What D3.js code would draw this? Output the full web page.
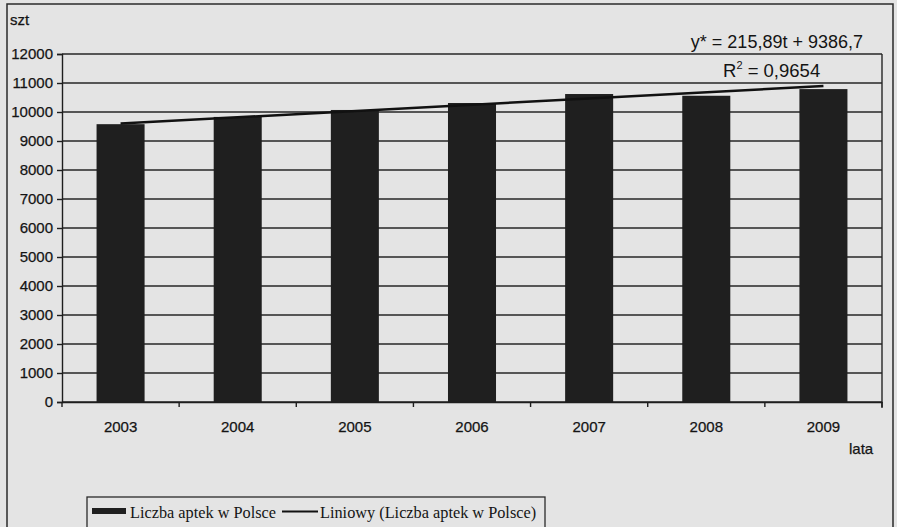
<!DOCTYPE html>
<html>
<head>
<meta charset="utf-8">
<script src="https://cdn.jsdelivr.net/npm/d3@7"></script>
<style>
  html, body { margin: 0; padding: 0; background: #e4e4e4; }
  svg { display: block; }
</style>
</head>
<body>
<svg id="chart" width="897" height="527"></svg>
<script>
// ---- data ----
const years = ["2003", "2004", "2005", "2006", "2007", "2008", "2009"];
const pharmacies = [9580, 9830, 10070, 10310, 10620, 10560, 10790];
const yTicks = [0, 1000, 2000, 3000, 4000, 5000, 6000, 7000, 8000, 9000, 10000, 11000, 12000];
const trendSlope = 215.89;
const trendIntercept = 9386.7;
const equationText = "y* = 215,89t + 9386,7";
const r2Value = "0,9654";
const seriesName = "Liczba aptek w Polsce";
const trendName = "Liniowy (Liczba aptek w Polsce)";

// ---- layout ----
const W = 897, H = 527;
const plot = { left: 62, right: 882, top: 54, bottom: 402 };
const ink = "#141414";
const sans = "Liberation Sans, Arial, sans-serif";
const serif = "Liberation Serif, Times New Roman, serif";
const svg = d3.select("#chart");

svg.append("rect").attr("x", 0).attr("y", 0).attr("width", W).attr("height", H).attr("fill", "#e4e4e4");
// outer frame
svg.append("rect").attr("x", 7).attr("y", 4).attr("width", 886).attr("height", 540)
  .attr("fill", "none").attr("stroke", "#2a2a2a").attr("stroke-width", 1.5);

const x = d3.scaleBand().domain(years).range([plot.left, plot.right])
  .paddingInner(0.59).paddingOuter(0.295);
const y = d3.scaleLinear().domain([0, 12000]).range([plot.bottom, plot.top]);

// gridlines
svg.append("g").selectAll("line").data(yTicks).join("line")
  .attr("x1", plot.left).attr("x2", plot.right)
  .attr("y1", d => y(d)).attr("y2", d => y(d))
  .attr("stroke", "#262626").attr("stroke-width", 1.4);

// right border of plot
svg.append("line").attr("x1", plot.right).attr("x2", plot.right)
  .attr("y1", plot.top).attr("y2", plot.bottom + 6)
  .attr("stroke", "#262626").attr("stroke-width", 1.4);

// bars
svg.append("g").selectAll("rect").data(years).join("rect")
  .attr("x", d => x(d)).attr("width", x.bandwidth())
  .attr("y", (d, i) => y(pharmacies[i]))
  .attr("height", (d, i) => y(0) - y(pharmacies[i]))
  .attr("fill", "#1f1f1f");

// trend line
const trendPts = years.map((d, i) => [x(d) + x.bandwidth() / 2, y(trendSlope * (i + 1) + trendIntercept)]);
svg.append("path").datum([trendPts[0], trendPts[trendPts.length - 1]])
  .attr("d", d3.line())
  .attr("fill", "none").attr("stroke", "#111").attr("stroke-width", 2.5);

// y axis
const yAxis = d3.axisLeft(y).tickValues(yTicks).tickSize(5).tickPadding(4).tickFormat(d3.format("d"));
const gy = svg.append("g").attr("transform", `translate(${plot.left},0)`).call(yAxis);
gy.select(".domain").attr("stroke", "#1e1e1e").attr("stroke-width", 1.4);
gy.selectAll(".tick line").attr("stroke", "#1e1e1e").attr("stroke-width", 1.4);
gy.selectAll(".tick text").attr("font-family", sans)
  .attr("font-size", 15).attr("fill", ink).attr("stroke", ink).attr("stroke-width", 0.25);

// x axis
const xAxis = d3.axisBottom(x).tickSize(0).tickPadding(19);
const gx = svg.append("g").attr("transform", `translate(0,${plot.bottom})`).call(xAxis);
gx.select(".domain").attr("stroke", "#1e1e1e").attr("stroke-width", 1.4);
gx.selectAll(".tick text").attr("font-family", sans)
  .attr("font-size", 15).attr("fill", ink).attr("stroke", ink).attr("stroke-width", 0.25);
// boundary ticks between categories
svg.append("g").selectAll("line").data(d3.range(years.length + 1)).join("line")
  .attr("x1", k => plot.left + k * x.step())
  .attr("x2", k => plot.left + k * x.step())
  .attr("y1", plot.bottom).attr("y2", plot.bottom + 5)
  .attr("stroke", "#1e1e1e").attr("stroke-width", 1.4);

// axis titles
svg.append("text").attr("x", 10).attr("y", 25).text("szt")
  .attr("font-family", sans).attr("font-size", 15).attr("fill", ink).attr("stroke", ink).attr("stroke-width", 0.25);
svg.append("text").attr("x", 849).attr("y", 454).text("lata")
  .attr("font-family", sans).attr("font-size", 15).attr("fill", ink).attr("stroke", ink).attr("stroke-width", 0.25);

// equation
svg.append("text").attr("x", 863).attr("y", 48).attr("text-anchor", "end").text(equationText)
  .attr("font-family", sans).attr("font-size", 18).attr("fill", ink);
const r2 = svg.append("text").attr("x", 723).attr("y", 77)
  .attr("font-family", sans).attr("font-size", 18.5).attr("fill", ink);
r2.append("tspan").text("R");
r2.append("tspan").text("2").attr("font-size", 11).attr("dy", -8);
r2.append("tspan").text(" = " + r2Value).attr("dy", 8);

// legend
const lg = svg.append("g");
lg.append("rect").attr("x", 87).attr("y", 497).attr("width", 458).attr("height", 45)
  .attr("fill", "#e4e4e4").attr("stroke", "#2a2a2a").attr("stroke-width", 1.3);
lg.append("rect").attr("x", 92).attr("y", 508).attr("width", 34).attr("height", 6).attr("fill", "#1f1f1f");
lg.append("text").attr("x", 130).attr("y", 518).text(seriesName)
  .attr("font-family", serif).attr("font-size", 16.3).attr("fill", ink);
lg.append("line").attr("x1", 282).attr("x2", 318).attr("y1", 511.5).attr("y2", 511.5)
  .attr("stroke", "#111").attr("stroke-width", 2);
lg.append("text").attr("x", 320).attr("y", 518).text(trendName)
  .attr("font-family", serif).attr("font-size", 16.3).attr("fill", ink);
</script>
</body>
</html>
